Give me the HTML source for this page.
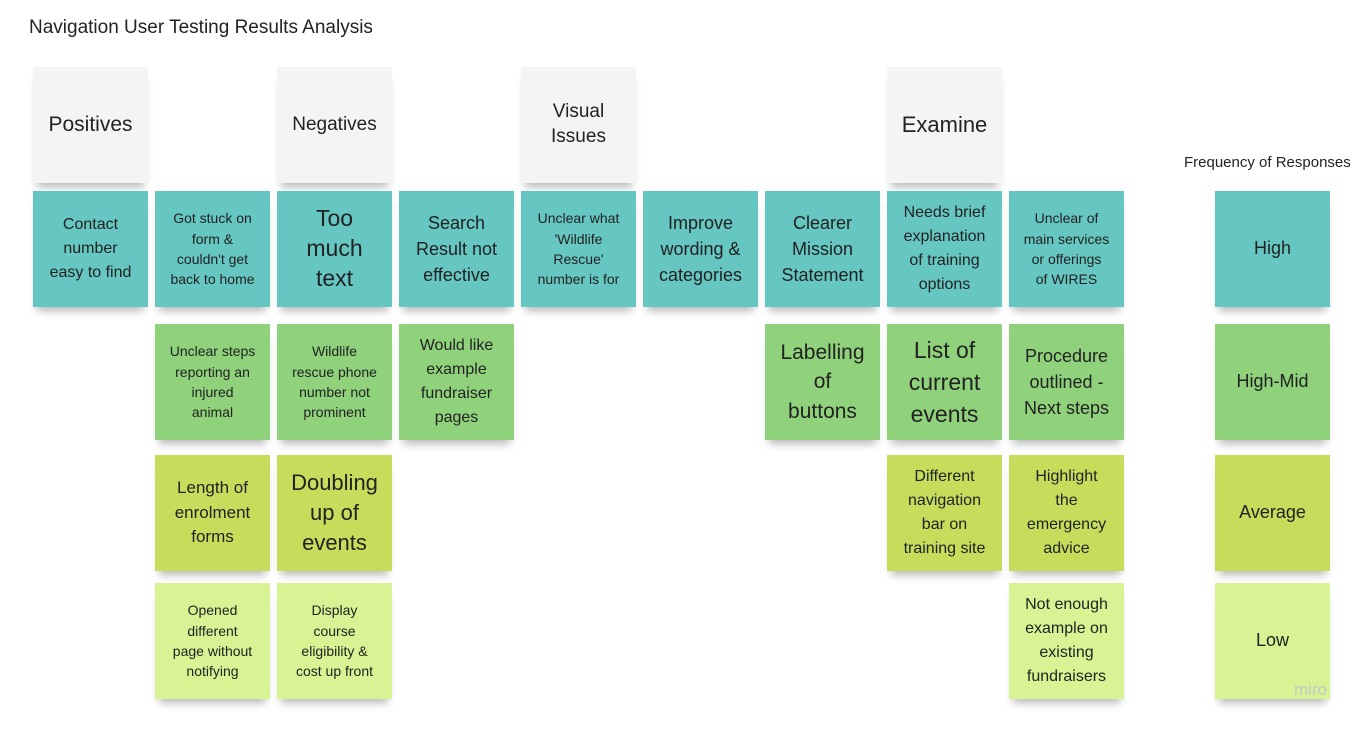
<!DOCTYPE html><html><head><style>
body{margin:0;width:1370px;height:729px;background:#fff;position:relative;overflow:hidden;font-family:"Liberation Sans",sans-serif;color:#222}
.n{position:absolute;width:115px;height:116px;display:flex;align-items:center;justify-content:center;text-align:center;line-height:1.3;box-shadow:0 8px 8px -4px rgba(0,0,0,.28)}
.h{background:#f4f4f5;font-size:21px}
.t{background:#66c6c1}.g{background:#8fd27b}.y{background:#c6dd5c}.l{background:#d7f393}
.s{font-size:14px}.m{font-size:18px}.L{font-size:23px}
</style></head><body>
<div style="position:absolute;left:29px;top:17px;font-size:19px">Navigation User Testing Results Analysis</div>
<div style="position:absolute;left:1184px;top:154px;font-size:15px">Frequency of Responses</div>
<div class="n h" style="left:33px;top:67px">Positives</div>
<div class="n h" style="left:277px;top:67px;font-size:19px">Negatives</div>
<div class="n h" style="left:521px;top:67px;font-size:19px">Visual<br>Issues</div>
<div class="n h" style="left:887px;top:67px;font-size:22px">Examine</div>

<div class="n t m" style="left:33px;top:191px;font-size:16px;line-height:1.5">Contact<br>number<br>easy to find</div>
<div class="n t s" style="left:155px;top:191px;line-height:1.45">Got stuck on<br>form &amp;<br>couldn't get<br>back to home</div>
<div class="n t L" style="left:277px;top:191px">Too<br>much<br>text</div>
<div class="n t m" style="left:399px;top:191px;line-height:1.45">Search<br>Result not<br>effective</div>
<div class="n t s" style="left:521px;top:191px;line-height:1.45">Unclear what<br>'Wildlife<br>Rescue'<br>number is for</div>
<div class="n t m" style="left:643px;top:191px;line-height:1.45">Improve<br>wording &amp;<br>categories</div>
<div class="n t m" style="left:765px;top:191px;line-height:1.45">Clearer<br>Mission<br>Statement</div>
<div class="n t" style="left:887px;top:191px;font-size:16px;line-height:1.5">Needs brief<br>explanation<br>of training<br>options</div>
<div class="n t s" style="left:1009px;top:191px;line-height:1.45">Unclear of<br>main services<br>or offerings<br>of WIRES</div>
<div class="n t m" style="left:1215px;top:191px">High</div>

<div class="n g s" style="left:155px;top:324px;line-height:1.45">Unclear steps<br>reporting an<br>injured<br>animal</div>
<div class="n g s" style="left:277px;top:324px;line-height:1.45">Wildlife<br>rescue phone<br>number not<br>prominent</div>
<div class="n g" style="left:399px;top:324px;font-size:16px;line-height:1.5">Would like<br>example<br>fundraiser<br>pages</div>
<div class="n g" style="left:765px;top:324px;font-size:21px;line-height:1.4">Labelling<br>of<br>buttons</div>
<div class="n g L" style="left:887px;top:324px;line-height:1.4">List of<br>current<br>events</div>
<div class="n g m" style="left:1009px;top:324px;line-height:1.45">Procedure<br>outlined -<br>Next steps</div>
<div class="n g m" style="left:1215px;top:324px">High-Mid</div>

<div class="n y" style="left:155px;top:455px;font-size:17px;line-height:1.45">Length of<br>enrolment<br>forms</div>
<div class="n y" style="left:277px;top:455px;font-size:22px;line-height:1.35">Doubling<br>up of<br>events</div>
<div class="n y" style="left:887px;top:455px;font-size:16px;line-height:1.5">Different<br>navigation<br>bar on<br>training site</div>
<div class="n y" style="left:1009px;top:455px;font-size:16px;line-height:1.5">Highlight<br>the<br>emergency<br>advice</div>
<div class="n y m" style="left:1215px;top:455px">Average</div>

<div class="n l s" style="left:155px;top:583px;line-height:1.45">Opened<br>different<br>page without<br>notifying</div>
<div class="n l s" style="left:277px;top:583px;line-height:1.45">Display<br>course<br>eligibility &amp;<br>cost up front</div>
<div class="n l" style="left:1009px;top:583px;font-size:16px;line-height:1.5">Not enough<br>example on<br>existing<br>fundraisers</div>
<div class="n l m" style="left:1215px;top:583px">Low</div>
<div style="position:absolute;left:1294px;top:680px;font-size:17px;color:#c8c8c8">miro</div>
</body></html>
